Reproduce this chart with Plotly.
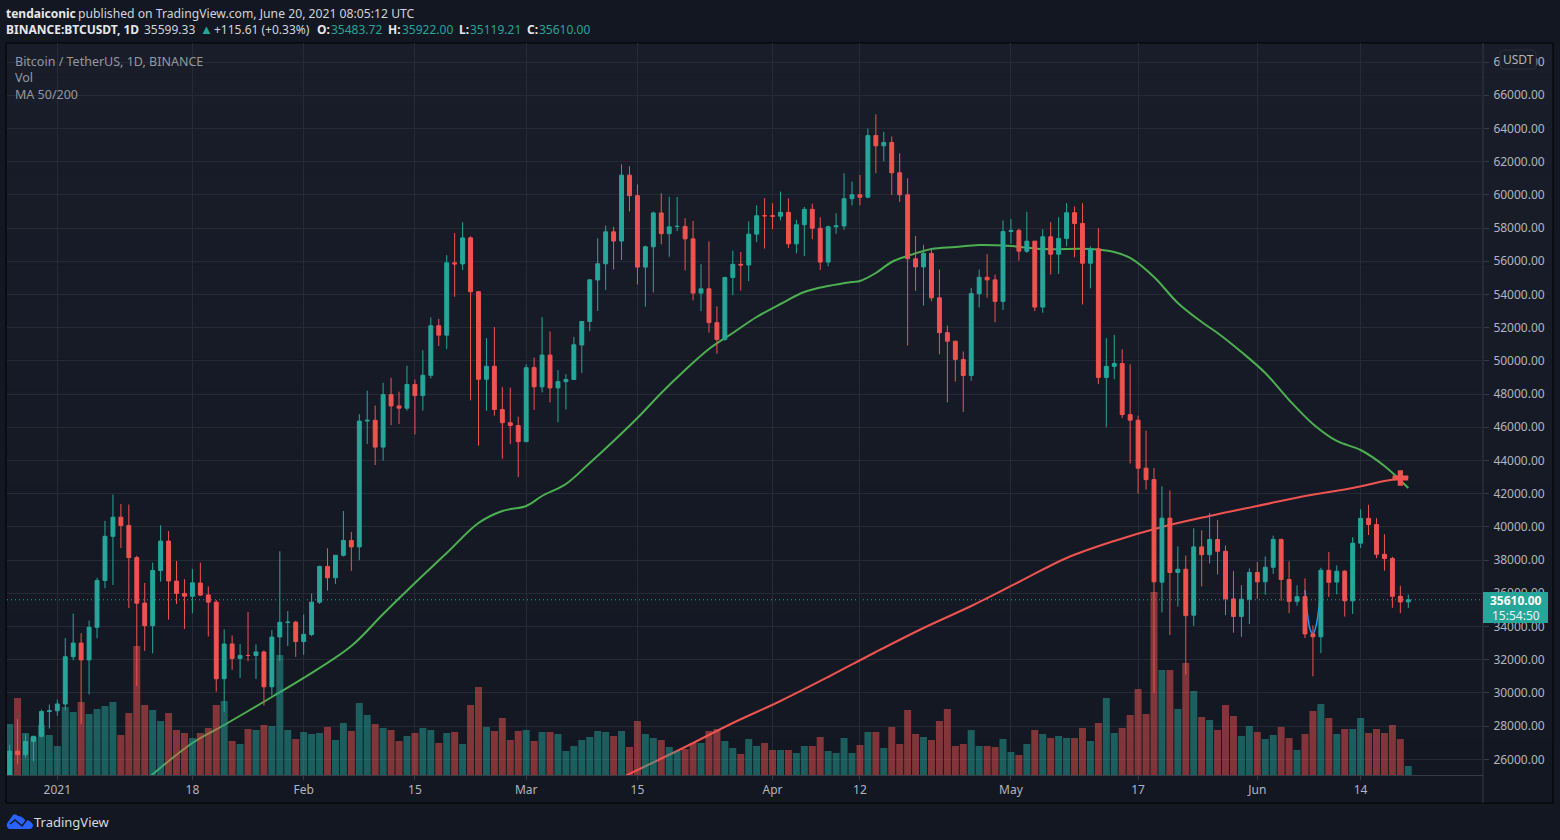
"""BTCUSDT daily chart, TradingView dark look, Dec 2020 - Jun 2021"""
import pandas as pd
import plotly.graph_objects as go

days = pd.date_range("2020-12-26", "2021-06-20", freq="D")

opens = [24664, 26493, 26281, 27079, 27385, 28875, 28923, 29331, 32176, 33000, 31989, 33949, 36769, 39432, 40586,
         40088, 38150, 35410, 34049, 37371, 39145, 36737, 35994, 35824, 36622, 35901, 35468, 30852, 32950, 32078,
         32259, 32254, 32464, 30366, 33368, 34246, 34262, 33092, 33517, 35466, 37619, 36936, 38289, 39181, 38795,
         46374, 46420, 44807, 47969, 47287, 47153, 48580, 47911, 49133, 52117, 51552, 55906, 55841, 57412, 54170,
         48891, 49677, 47073, 46276, 46104, 45134, 49595, 48436, 50349, 48374, 48746, 48883, 50959, 52376, 54874,
         55851, 57773, 57221, 61188, 59954, 55649, 56873, 58913, 57665, 58101, 58100, 57352, 54083, 54342, 52303,
         51293, 55026, 55817, 55777, 57635, 58746, 58739, 58720, 58950, 57052, 58202, 59129, 57990, 55950, 58077,
         58130, 59770, 60007, 59861, 63575, 62959, 63159, 61334, 60006, 56150, 55663, 56473, 53801, 51701, 51187,
         50089, 49121, 54047, 55036, 54881, 53584, 57796, 57858, 56610, 57214, 53241, 57473, 56428, 57380, 58929,
         58280, 55883, 56750, 49000, 49670, 49841, 46762, 46426, 43538, 42849, 36671, 40526, 37258, 37449, 34681,
         38796, 38324, 39241, 38529, 35661, 34605, 35641, 37253, 36694, 37568, 39246, 36829, 35516, 35796, 33556,
         33380, 37389, 36677, 37332, 35546, 39021, 40516, 40143, 38349, 38100, 35820, 35484]
highs = [26867, 28422, 27500, 27410, 28996, 29300, 29600, 33300, 34778, 33600, 34360, 36939, 40365, 41950, 41380,
         41350, 38264, 36628, 37850, 40100, 39747, 37950, 36852, 37469, 37850, 36415, 35600, 33826, 33456, 32944,
         34875, 32921, 32557, 33783, 38531, 34933, 34342, 34717, 35984, 37662, 38708, 38310, 40955, 39700, 46794,
         48200, 47310, 48678, 48985, 48150, 49707, 48875, 50641, 52618, 52530, 56368, 57700, 58352, 57508, 54183,
         51374, 52041, 48424, 48395, 46638, 49791, 50200, 52640, 51773, 49448, 49200, 51450, 52402, 54900, 57387,
         58150, 58081, 61844, 61724, 60633, 56938, 58999, 60100, 59888, 59880, 58589, 58430, 55830, 57200, 53287,
         55073, 56640, 56559, 58405, 59368, 59800, 59490, 60200, 59791, 58500, 59272, 59475, 58650, 58153, 58894,
         61300, 60800, 61200, 64000, 64854, 63800, 63520, 62506, 61000, 57526, 57000, 56757, 55500, 52130, 51200,
         50567, 54400, 55500, 56428, 55200, 58458, 58550, 57972, 58982, 57214, 57939, 58360, 58650, 59500, 59300,
         59500, 56900, 58000, 51367, 51569, 50700, 49800, 46700, 45800, 43546, 42451, 42200, 38829, 38270, 39920,
         39791, 40841, 40411, 38877, 37338, 36488, 37499, 37894, 38225, 39476, 39289, 37925, 36480, 36900, 34068,
         37534, 38491, 37680, 37400, 39380, 41064, 41330, 40527, 39560, 38200, 36457, 35922]
lows = [24500, 25700, 26101, 25880, 27320, 27850, 28624, 28946, 31962, 28130, 29900, 33288, 36300, 36500, 38720,
        35111, 30420, 32531, 32380, 36701, 34408, 35357, 33850, 34800, 35844, 33400, 30071, 28850, 31390, 30900,
        31910, 30837, 29241, 29842, 31915, 32825, 32171, 32296, 33418, 35362, 36161, 36570, 38215, 37351, 37988,
        45000, 43727, 43994, 46125, 46202, 47014, 45570, 47003, 48947, 50901, 50710, 53863, 55477, 47622, 44892,
        47003, 46700, 44106, 45000, 43000, 45134, 47047, 48100, 47500, 46300, 47070, 48882, 49274, 51789, 53005,
        54272, 55510, 56078, 59000, 54600, 53271, 54123, 57023, 56270, 57820, 55450, 53650, 53000, 51700, 50427,
        51214, 53966, 54242, 54800, 57150, 56769, 57935, 58460, 56800, 56478, 56317, 57333, 55473, 55700, 57654,
        57905, 59360, 59369, 59800, 61301, 62020, 60000, 59580, 50931, 54221, 53329, 53600, 50400, 47500, 48753,
        46930, 48800, 53222, 53813, 52330, 53068, 57050, 56035, 56500, 53000, 52900, 55200, 55241, 56900, 56235,
        53400, 54370, 48600, 46000, 48895, 46555, 43825, 42000, 42250, 30000, 34850, 33488, 35200, 31111, 34031,
        36419, 37800, 37134, 34684, 33632, 33379, 34153, 35666, 35920, 37170, 35555, 34800, 35258, 33300, 31000,
        32396, 35782, 35936, 34600, 34757, 38730, 39506, 38116, 37365, 35129, 34803, 35119]
closes = [26493, 26281, 27079, 27385, 28875, 28923, 29331, 32178, 33000, 31988, 33949, 36769, 39432, 40582, 40088,
          38150, 35404, 34051, 37371, 39144, 36742, 35994, 35828, 36631, 35891, 35468, 30850, 32945, 32078, 32259,
          32254, 32467, 30366, 33364, 34252, 34262, 33092, 33526, 35466, 37618, 36936, 38290, 39186, 38795, 46374,
          46420, 44807, 47969, 47287, 47153, 48577, 47911, 49133, 52119, 51552, 55906, 55841, 57408, 54169, 48891,
          49676, 47073, 46276, 46106, 45135, 49587, 48440, 50349, 48374, 48751, 48882, 50971, 52375, 54884, 55851,
          57773, 57221, 61188, 59954, 55649, 56873, 58913, 57665, 58075, 58102, 57351, 54083, 54340, 52303, 51293,
          55025, 55817, 55777, 57635, 58746, 58740, 58720, 58950, 57052, 58202, 59129, 57991, 55950, 58077, 58130,
          59770, 60007, 59860, 63575, 62959, 63159, 61334, 60006, 56150, 55663, 56473, 53801, 51701, 51187, 50089,
          49121, 54053, 55036, 54881, 53584, 57796, 57858, 56610, 57213, 53241, 57473, 56428, 57380, 58928, 58280,
          55883, 56750, 49007, 49670, 49841, 46762, 46431, 43538, 42849, 36690, 40526, 37252, 37449, 34655, 38796,
          38324, 39241, 38529, 35663, 34605, 35641, 37253, 36693, 37568, 39246, 36829, 35513, 35796, 33552, 33380,
          37388, 36662, 37331, 35546, 39020, 40516, 40144, 38349, 38092, 35820, 35483, 35610]
# no scale in the picture for volume, units are arbitrary
volumes = [51, 77, 42, 38, 50, 40, 29, 68, 63, 73, 61, 66, 69, 73, 40, 62, 129, 70, 65, 54, 62, 45, 42, 37, 42, 47,
           70, 74, 34, 31, 46, 45, 50, 49, 120, 45, 36, 43, 41, 42, 48, 35, 52, 44, 72, 60, 51, 47, 45, 34, 39, 42,
           47, 45, 32, 42, 43, 31, 70, 88, 48, 44, 57, 35, 44, 45, 34, 43, 43, 41, 24, 29, 35, 38, 44, 43, 39, 44,
           28, 54, 41, 37, 35, 28, 24, 26, 32, 32, 44, 46, 34, 27, 21, 36, 29, 32, 25, 25, 25, 22, 29, 29, 38, 24,
           22, 37, 22, 30, 43, 43, 27, 48, 31, 65, 41, 38, 35, 54, 66, 29, 31, 45, 29, 29, 28, 36, 23, 20, 31, 45,
           41, 37, 39, 37, 37, 47, 34, 52, 77, 42, 47, 60, 86, 61, 183, 105, 105, 66, 112, 84, 58, 55, 45, 70, 59,
           39, 49, 43, 36, 40, 48, 37, 25, 41, 64, 71, 57, 41, 46, 46, 57, 42, 46, 42, 50, 36, 9]

ma50_dates = ["2021-01-12", "2021-01-18", "2021-01-22", "2021-01-28", "2021-02-01", "2021-02-07", "2021-02-11",
              "2021-02-15", "2021-02-19", "2021-02-23", "2021-02-26", "2021-03-01", "2021-03-03", "2021-03-06",
              "2021-03-09", "2021-03-12", "2021-03-15", "2021-03-18", "2021-03-21", "2021-03-24", "2021-03-27",
              "2021-03-30", "2021-04-02", "2021-04-05", "2021-04-08", "2021-04-11", "2021-04-12", "2021-04-14",
              "2021-04-16", "2021-04-18", "2021-04-21", "2021-04-24", "2021-04-27", "2021-05-01", "2021-05-05",
              "2021-05-11", "2021-05-14", "2021-05-16", "2021-05-19", "2021-05-22", "2021-05-25", "2021-05-27",
              "2021-05-30", "2021-06-02", "2021-06-05", "2021-06-08", "2021-06-11", "2021-06-14", "2021-06-17",
              "2021-06-20"]
ma50_values = [24693, 26982, 28066, 29753, 30900, 32825, 34753, 36620, 38425, 40235, 40958, 41260, 41861, 42583,
               43850, 45175, 46560, 48066, 49451, 50717, 51680, 52644, 53428, 54150, 54510, 54753, 54813, 55295,
               55958, 56320, 56740, 56860, 56980, 56920, 56740, 56740, 56560, 56200, 55055, 53490, 52343, 51680,
               50535, 49270, 47644, 46200, 45175, 44633, 43670, 42344]
ma200_dates = ["2021-03-13", "2021-03-15", "2021-03-21", "2021-03-27", "2021-04-02", "2021-04-08", "2021-04-14",
               "2021-04-20", "2021-04-26", "2021-05-02", "2021-05-08", "2021-05-14", "2021-05-20", "2021-05-26",
               "2021-06-01", "2021-06-07", "2021-06-13", "2021-06-17", "2021-06-20"]
ma200_values = [24886, 25355, 26741, 28187, 29512, 30958, 32464, 33910, 35235, 36680, 38126, 39150, 39993, 40656,
                41258, 41860, 42344, 42765, 43006]

# hand drawn blue stroke behind the June 8 candles
stroke_dates = ["2021-06-07 00:00", "2021-06-07 06:00", "2021-06-07 16:00", "2021-06-08 00:00", "2021-06-08 10:00",
                "2021-06-08 20:00", "2021-06-09 00:00"]
stroke_values = [36200, 35000, 33800, 33550, 34090, 35415, 35900]

cross_date = "2021-06-19"
cross_price = 42945
last_price = 35610

tick_dates = ["2021-01-01", "2021-01-18", "2021-02-01", "2021-02-15", "2021-03-01", "2021-03-15", "2021-04-01",
              "2021-04-12", "2021-05-01", "2021-05-17", "2021-06-01", "2021-06-14"]
tick_labels = ["2021", "18", "Feb", "15", "Mar", "15", "Apr", "12", "May", "17", "Jun", "14"]

UP = "#26a69a"
DOWN = "#ef5350"
GRID = "#262a35"
AXIS = "#363a45"
TEXT = "#b2b5be"
FONT = "Noto Sans"

# plot area in page pixels
LEFT, RIGHT, TOP, BOTTOM = 7, 1483, 43, 775
PRICE_RANGE = [25054, 69150]


def fx(x):
    return (x - LEFT) / (RIGHT - LEFT)


def fy(y):
    return (BOTTOM - y) / (BOTTOM - TOP)


def label(x, y, text, color=TEXT, size=12, anchor="left"):
    # annotations carry a small inner pad, take it off left aligned texts
    if anchor == "left":
        x -= 2
    return dict(x=fx(x), y=fy(y), xref="paper", yref="paper", text=text, showarrow=False, xanchor=anchor,
                yanchor="middle", align=anchor, font=dict(family=FONT, size=size, color=color))


vol_colors = ["rgba(38,166,154,0.5)" if c >= o else "rgba(239,83,80,0.5)" for o, c in zip(opens, closes)]

data = [
    go.Scatter(x=ma50_dates, y=ma50_values, mode="lines", line=dict(color="#4caf50", width=2, shape="spline")),
    go.Scatter(x=ma200_dates, y=ma200_values, mode="lines", line=dict(color=DOWN, width=2, shape="spline")),
    go.Scatter(x=stroke_dates, y=stroke_values, mode="lines", line=dict(color="#2196f3", width=1.5, shape="spline")),
    go.Bar(x=days, y=volumes, marker=dict(color=vol_colors, line=dict(width=0)), yaxis="y2"),
    go.Candlestick(x=days, open=opens, high=highs, low=lows, close=closes, yaxis="y3", whiskerwidth=0,
                   increasing=dict(line=dict(color=UP, width=1), fillcolor=UP),
                   decreasing=dict(line=dict(color=DOWN, width=1), fillcolor=DOWN)),
    go.Scatter(x=[cross_date], y=[cross_price], mode="markers", yaxis="y3",
               marker=dict(symbol="cross", size=13, color=DOWN, line=dict(width=0))),
]

# pane background fades from top to bottom
shapes = []
bands = 24
for i in range(bands):
    t = i / (bands - 1)
    color = "rgb({},{},{})".format(round(25 - 6 * t), round(29 - 6 * t), round(41 - 7 * t))
    y0 = TOP + (803 - TOP) * i / bands
    y1 = TOP + (803 - TOP) * (i + 1) / bands
    shapes.append(dict(type="rect", xref="paper", yref="paper", x0=fx(6), x1=fx(1553), y0=fy(y0), y1=fy(y1),
                       fillcolor=color, line=dict(width=0), layer="below"))

shapes += [
    dict(type="rect", xref="paper", yref="paper", x0=fx(6), x1=fx(1553), y0=fy(43), y1=fy(803),
         line=dict(color="#000000", width=1), layer="below"),
    dict(type="line", xref="paper", yref="paper", x0=1, x1=1, y0=fy(43), y1=fy(803),
         line=dict(color=AXIS, width=1), layer="below"),
    dict(type="line", xref="paper", yref="y", x0=0, x1=1, y0=last_price, y1=last_price,
         line=dict(color=UP, width=1, dash="1px,3px"), layer="below"),
    # last price tag
    dict(type="rect", xref="paper", yref="paper", x0=fx(1483), x1=fx(1548), y0=fy(592), y1=fy(623),
         fillcolor=UP, line=dict(width=0)),
    # USDT button, rounded
    dict(type="path", xref="paper", yref="paper", fillcolor="#191d29", line=dict(color="#2a2e39", width=1),
         path="M{} {} L{} {} Q{} {} {} {} L{} {} Q{} {} {} {} L{} {} Q{} {} {} {} L{} {} Q{} {} {} {} Z".format(
             fx(1504), fy(50), fx(1532), fy(50), fx(1536), fy(50), fx(1536), fy(54), fx(1536), fy(65),
             fx(1536), fy(69), fx(1532), fy(69), fx(1504), fy(69), fx(1500), fy(69), fx(1500), fy(65),
             fx(1500), fy(54), fx(1500), fy(50), fx(1504), fy(50))),
    # TradingView logo
    dict(type="path", xref="paper", yref="paper", fillcolor="#2962ff", line=dict(width=0),
         path="M{} {} Q{} {} {} {} L{} {} Q{} {} {} {} Q{} {} {} {} Q{} {} {} {} Q{} {} {} {} Z".format(
             fx(9), fy(829), fx(5), fy(826), fx(8), fy(822), fx(13), fy(815), fx(15), fy(813), fx(18), fy(816),
             fx(22), fy(816), fx(25), fy(820), fx(31), fy(820), fx(33), fy(825), fx(33), fy(829), fx(29), fy(829))),
    dict(type="path", xref="paper", yref="paper", line=dict(color="#131722", width=1.5),
         path="M{} {} L{} {} L{} {} L{} {}".format(fx(10), fy(824), fx(15), fy(820), fx(22), fy(826),
                                                   fx(28), fy(818))),
]

annotations = [
    label(6, 13, "<b>tendaiconic</b>", "#e6e7ea"),
    label(78, 13, "published on TradingView.com, June 20, 2021 08:05:12 UTC", "#d1d4dc", 12.2),
    label(6, 30, "<b>BINANCE:BTCUSDT, 1D</b>", "#e6e7ea"),
    label(144, 30, "35599.33", "#d1d4dc"),
    label(200, 29, "▲", UP, 13),
    label(214, 30, "+115.61 (+0.33%)", "#d1d4dc"),
    label(317, 30, "<b>O:</b>", "#e6e7ea"),
    label(331, 30, "35483.72", UP),
    label(388, 30, "<b>H:</b>", "#e6e7ea"),
    label(402, 30, "35922.00", UP),
    label(459, 30, "<b>L:</b>", "#e6e7ea"),
    label(470, 30, "35119.21", UP),
    label(527, 30, "<b>C:</b>", "#e6e7ea"),
    label(539, 30, "35610.00", UP),
    label(15, 61, "Bitcoin / TetherUS, 1D, BINANCE", "#9598a1", 12.5),
    label(15, 77, "Vol", "#9598a1", 12.5),
    label(15, 94, "MA 50/200", "#9598a1", 12.5),
    label(1518, 59.5, "USDT", TEXT, 12, "center"),
    label(1516, 600.5, "<b>35610.00</b>", "#ffffff", 12, "center"),
    label(1516, 615, "15:54:50", "#e8f4f2", 12, "center"),
    label(34, 822, "TradingView", "#d9dade", 13),
]

layout = go.Layout(
    width=1560, height=840, autosize=False,
    margin=dict(l=LEFT, r=1560 - RIGHT, t=TOP, b=840 - BOTTOM, pad=0),
    paper_bgcolor="#131722", plot_bgcolor="rgba(0,0,0,0)",
    showlegend=False, bargap=0.12, boxgap=0.3, hovermode=False,
    font=dict(family=FONT, size=12, color=TEXT),
    xaxis=dict(type="date", range=["2020-12-25 16:05", "2021-06-29 09:36"], rangeslider=dict(visible=False),
               tickmode="array", tickvals=tick_dates, ticktext=tick_labels, tickangle=0,
               showgrid=True, gridcolor=GRID, gridwidth=1, zeroline=False, showline=True, linecolor=AXIS,
               ticks="outside", ticklen=4, tickcolor=AXIS, tickfont=dict(family=FONT, size=12, color=TEXT)),
    yaxis=dict(range=PRICE_RANGE, side="right", tick0=0, dtick=2000, tickformat=".2f", showgrid=True,
               gridcolor=GRID, gridwidth=1, zeroline=False, showline=False, ticks="outside", ticklen=5,
               tickcolor=AXIS, ticklabelstandoff=2, tickfont=dict(family=FONT, size=12, color=TEXT)),
    yaxis2=dict(range=[0, BOTTOM - TOP], overlaying="y", visible=False),
    yaxis3=dict(range=PRICE_RANGE, overlaying="y", visible=False),
    shapes=shapes, annotations=annotations,
)

fig = go.Figure(data=data, layout=layout)
fig.write_html("out.html", config=dict(displayModeBar=False),
               post_script="document.body.style.margin='0';document.body.style.overflow='hidden';")
